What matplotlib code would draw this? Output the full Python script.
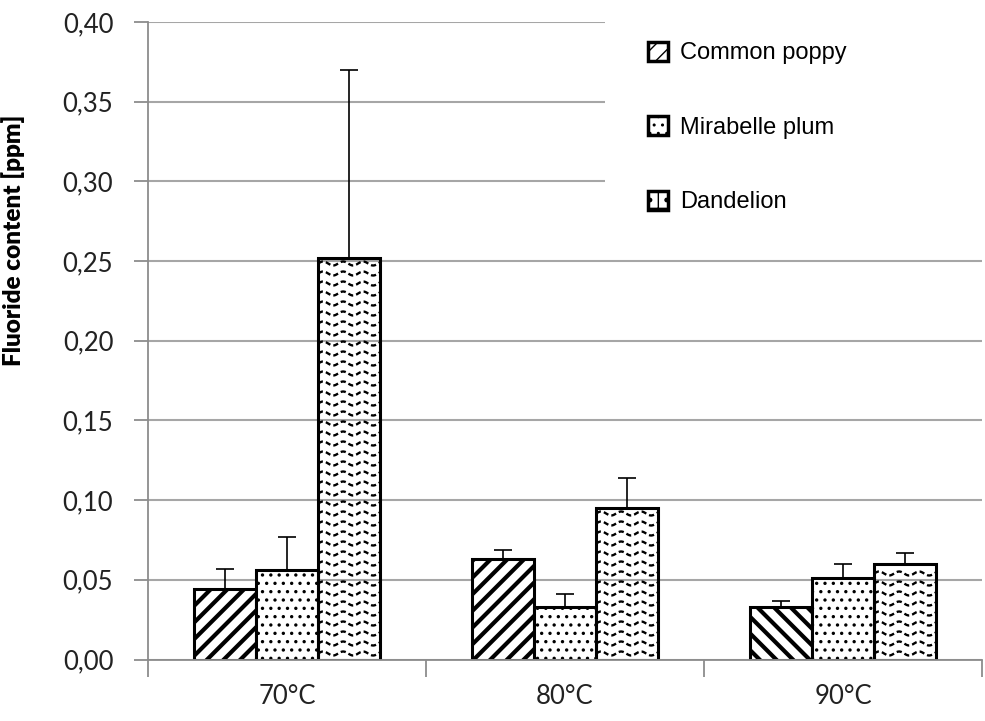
import numpy as np
import matplotlib
matplotlib.use("Agg")
import matplotlib.pyplot as plt
from matplotlib.patches import Patch, Rectangle

categories = ["70°C", "80°C", "90°C"]
series = ["Common poppy", "Mirabelle plum", "Dandelion"]
poppy = [0.044, 0.063, 0.033]
poppy_err = [0.013, 0.006, 0.004]
mirabelle = [0.056, 0.033, 0.051]
mirabelle_err = [0.021, 0.008, 0.009]
dandelion = [0.252, 0.095, 0.060]
dandelion_err = [0.118, 0.019, 0.007]
yticks = [0.00, 0.05, 0.10, 0.15, 0.20, 0.25, 0.30, 0.35, 0.40]
ytick_labels = ["0,00", "0,05", "0,10", "0,15", "0,20", "0,25", "0,30", "0,35", "0,40"]

fig = plt.figure(figsize=(9.85, 7.21), dpi=100)
ax = fig.add_axes([148/985, 1-659.5/721, 834/985, (659.5-21.9)/721])

x = np.arange(len(categories))
w = 0.224
grid_c = "#a6a6a6"

def set_hlw(patches, lw):
    for p in patches:
        if hasattr(p, "set_hatch_linewidth"):
            p.set_hatch_linewidth(lw)

err_kw = dict(ecolor="black", elinewidth=1.2, capsize=6.5, capthick=1.2)
b1 = ax.bar(x - w, poppy, w, color="white", edgecolor="black", linewidth=2.2,
            yerr=[np.zeros(3), poppy_err], error_kw=err_kw, zorder=2)
for i, p in enumerate(b1.patches):
    p.set_hatch("//" if i < 2 else "\\\\")
set_hlw(b1.patches, 3.0)
b2 = ax.bar(x, mirabelle, w, color="white", edgecolor="black", linewidth=2.2,
            hatch="..", yerr=[np.zeros(3), mirabelle_err], error_kw=err_kw, zorder=2)
set_hlw(b2.patches, 1.2)
b3 = ax.bar(x + w, dandelion, w, color="white", edgecolor="black", linewidth=2.2,
            yerr=[np.zeros(3), dandelion_err], error_kw=err_kw, zorder=2)

# wavy fill pattern for Dandelion bars
row_step = 10 / 1594.0
amp = 2.0 / 1594.0
period = 20 / 278.0
for p in b3.patches:
    x0, y0 = p.get_x(), p.get_y()
    bw, bh = p.get_width(), p.get_height()
    xs = np.linspace(x0, x0 + bw, 200)
    yy = y0 + row_step * 0.6
    while yy < y0 + bh:
        ln, = ax.plot(xs, yy + amp * np.sin(2 * np.pi * (xs - x0) / period),
                      color="black", lw=1.7, ls=(0, (2.2, 1.3)), zorder=2.1)
        ln.set_clip_path(p)
        yy += row_step
    p.set_zorder(2.2)
    p.set_facecolor("none")

ax.set_xlim(-0.5, 2.5)
ax.set_ylim(0, 0.40)
ax.set_yticks(yticks)
ax.set_yticklabels(ytick_labels)
ax.set_xticks(x)
ax.set_xticklabels(categories)
ax.set_xticks([-0.5, 0.5, 1.5, 2.5], minor=True)
ax.tick_params(axis="x", which="major", length=0, pad=18, labelsize=18.5, labelcolor="#222222")
ax.tick_params(axis="x", which="minor", length=12, width=1.3, color="#8c8c8c")
ax.tick_params(axis="y", length=10, width=1.3, color="#8c8c8c", pad=15, labelsize=18.5, labelcolor="#222222")
for lab in ax.get_xticklabels() + ax.get_yticklabels():
    lab.set_family("Lato")

ax.grid(axis="y", color=grid_c, lw=1.5, zorder=0.5)
ax.set_axisbelow(True)
for s in ["top", "right"]:
    ax.spines[s].set_visible(False)
ax.spines["left"].set_color("#8c8c8c")
ax.spines["bottom"].set_color("#8c8c8c")
ax.spines["left"].set_linewidth(1.3)
ax.spines["bottom"].set_linewidth(1.3)

ax.set_ylabel("Fluoride content [ppm]", fontsize=17.5, fontweight="heavy", family="Lato")
ax.yaxis.set_label_coords(-0.148, 0.658)

# legend background (covers gridlines like the original)
ax.add_patch(Rectangle((0.548, 0.653), 0.452, 0.36, transform=ax.transAxes,
                       facecolor="white", edgecolor="none", zorder=1, clip_on=False))

handles = [Patch(facecolor="white", edgecolor="black", hatch="//", linewidth=2.5),
           Patch(facecolor="white", edgecolor="black", hatch="..", linewidth=2.5),
           Patch(facecolor="white", edgecolor="black", hatch="+.", linewidth=2.5)]
leg = ax.legend(handles, series, loc="upper left",
                bbox_to_anchor=(636/985, 1 - 30/721), bbox_transform=fig.transFigure,
                frameon=False, borderpad=0, handlelength=0.85, handleheight=0.85,
                handletextpad=0.5, labelspacing=2.2,
                prop={"family": "Liberation Sans", "size": 17})

fig.savefig("out.png", dpi=100)
